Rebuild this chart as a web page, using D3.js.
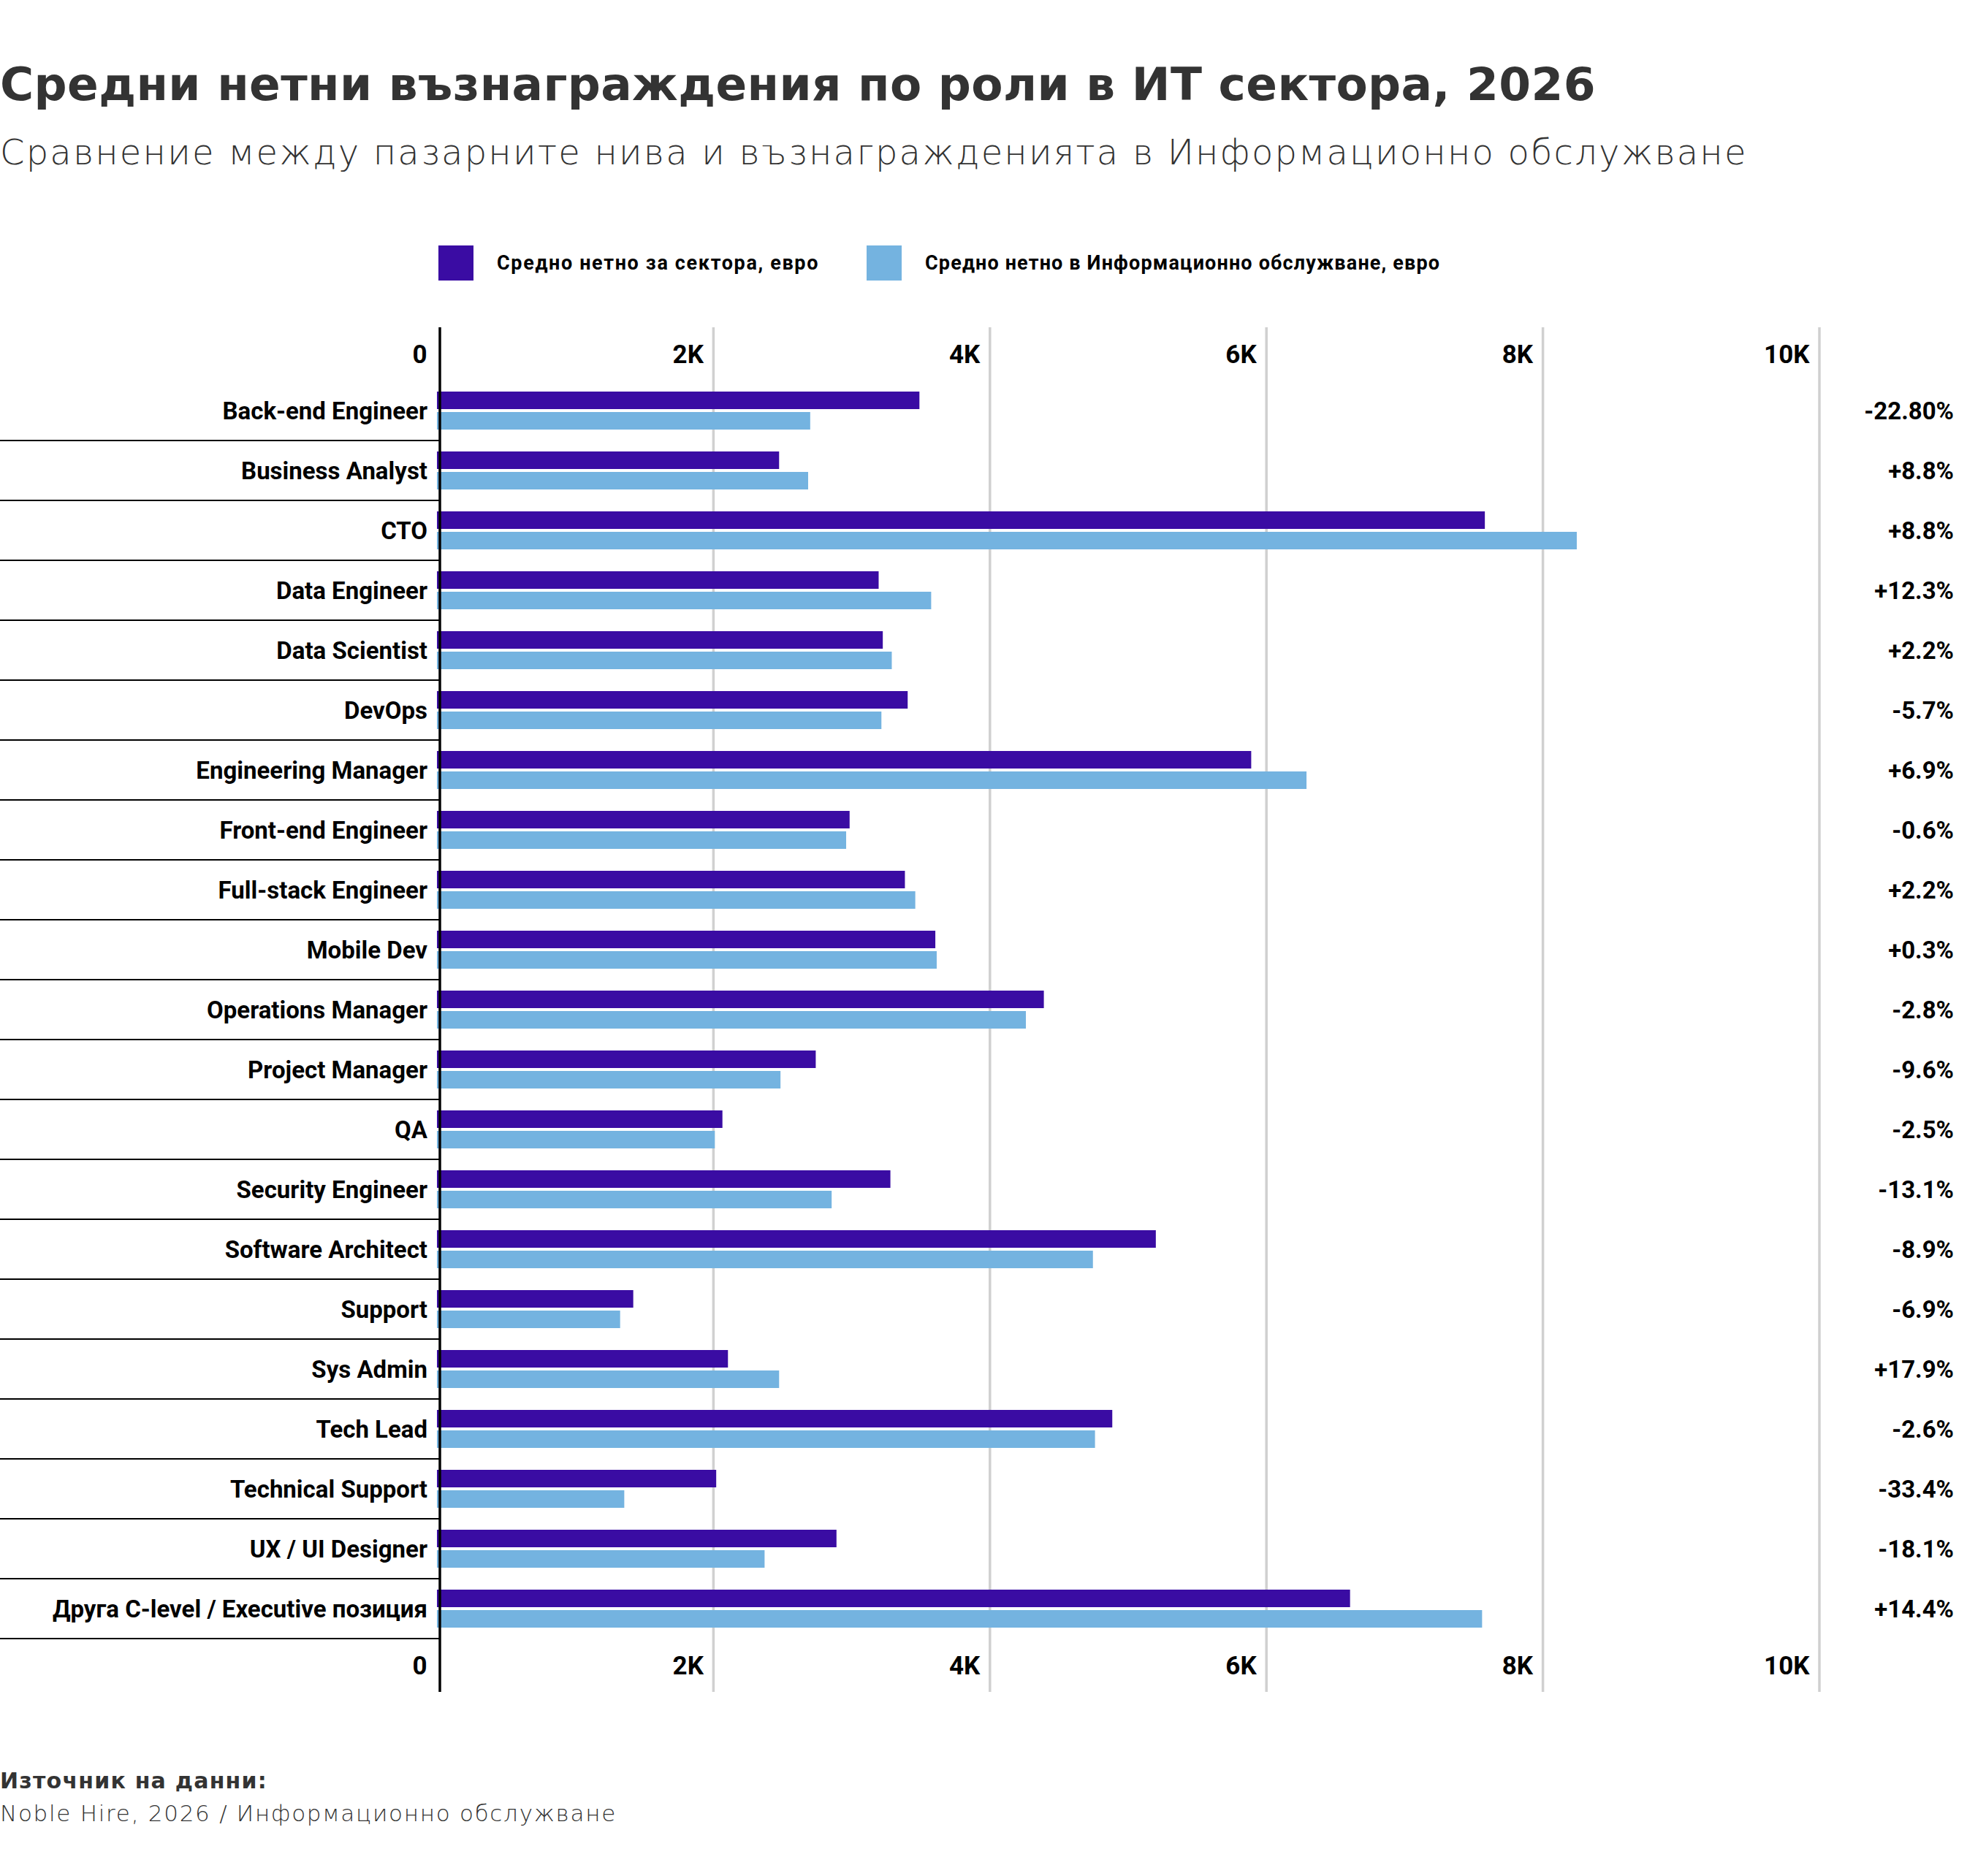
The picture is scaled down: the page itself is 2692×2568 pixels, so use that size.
<!DOCTYPE html>
<html lang="bg">
<head>
<meta charset="utf-8">
<title>Средни нетни възнаграждения по роли в ИТ сектора, 2026</title>
<script src="https://cdn.jsdelivr.net/npm/d3@7/dist/d3.min.js"></script>
<style>
    body { margin: 0; background: #fff; }
    svg { display: block; }
</style>
</head>
<body>
<div id="chart"></div>
<script>
// Data
const roles = [
    'Back-end Engineer', 'Business Analyst', 'CTO', 'Data Engineer', 'Data Scientist',
    'DevOps', 'Engineering Manager', 'Front-end Engineer', 'Full-stack Engineer', 'Mobile Dev',
    'Operations Manager', 'Project Manager', 'QA', 'Security Engineer', 'Software Architect',
    'Support', 'Sys Admin', 'Tech Lead', 'Technical Support', 'UX / UI Designer',
    'Друга C-level / Executive позиция'
];
const sectorAvg = [3490, 2475, 7580, 3195, 3225, 3405, 5890, 2985, 3385, 3605, 4390,
    2740, 2065, 3280, 5200, 1420, 2105, 4885, 2020, 2890, 6605];
const infoAvg = [2700, 2685, 8245, 3575, 3290, 3215, 6290, 2960, 3460, 3615, 4260,
    2485, 2010, 2855, 4745, 1325, 2475, 4760, 1355, 2370, 7560];
const diffLabels = ['-22.80%', '+8.8%', '+8.8%', '+12.3%', '+2.2%', '-5.7%', '+6.9%',
    '-0.6%', '+2.2%', '+0.3%', '-2.8%', '-9.6%', '-2.5%', '-13.1%', '-8.9%', '-6.9%',
    '+17.9%', '-2.6%', '-33.4%', '-18.1%', '+14.4%'];
const xTicks = [0, 2000, 4000, 6000, 8000, 10000];
const seriesNames = ['Средно нетно за сектора, евро', 'Средно нетно в Информационно обслужване, евро'];
const seriesColors = ['#3a0ca3', '#74b3e0'];

const rows = roles.map((r, i) => ({ role: r, sector: sectorAvg[i], info: infoAvg[i], diff: diffLabels[i] }));

const W = 2692, H = 2568;
const titleFont = "'DejaVu Sans', 'Noto Sans', sans-serif";
const labelFont = "Roboto, 'Liberation Sans', sans-serif";

// stretch a left-aligned text to the width it has in the design
function fitWidth(sel, target) {
    const len = sel.node().getComputedTextLength();
    const n = sel.text().length;
    sel.attr('letter-spacing', ((target - len) / n).toFixed(2));
}

const svg = d3.select('#chart').append('svg')
    .attr('width', W)
    .attr('height', H);

svg.append('rect').attr('width', W).attr('height', H).attr('fill', '#fff');

// Titles
svg.append('text')
    .attr('x', 0)
    .attr('y', 137)
    .attr('fill', '#333')
    .attr('font-family', titleFont)
    .attr('font-size', '63px')
    .attr('font-weight', 700)
    .text('Средни нетни възнаграждения по роли в ИТ сектора, 2026')
    .call(fitWidth, 2184);

svg.append('text')
    .attr('x', 0)
    .attr('y', 225)
    .attr('fill', '#333')
    .attr('font-family', titleFont)
    .attr('font-size', '48px')
    .attr('font-weight', 300)
    .text('Сравнение между пазарните нива и възнагражденията в Информационно обслужване')
    .call(fitWidth, 2392);

// Legend
const legendX = [600, 1186];
const legendW = [441, 705];
const legend = svg.append('g').attr('class', 'legend');
seriesNames.forEach((name, i) => {
    legend.append('rect')
        .attr('x', legendX[i])
        .attr('y', 336)
        .attr('width', 48)
        .attr('height', 48)
        .attr('fill', seriesColors[i]);
    legend.append('text')
        .attr('x', legendX[i] + 80)
        .attr('y', 360)
        .attr('dy', '0.35em')
        .attr('fill', '#000')
        .attr('font-family', labelFont)
        .attr('font-size', '27px')
        .attr('font-weight', 700)
        .text(name)
        .call(fitWidth, legendW[i]);
});

// Scales
const x = d3.scaleLinear()
    .domain([0, 10000])
    .range([598, 2490]);

const y = d3.scaleBand()
    .domain(roles)
    .range([521, 2243]);

const ySub = d3.scaleBand()
    .domain(['sector', 'info'])
    .range([0, y.bandwidth()])
    .paddingInner(1 / 7)
    .paddingOuter(0.5357);

const gridTop = 448, gridBottom = 2316;

// Grid
svg.append('g')
    .attr('class', 'grid')
    .selectAll('line')
    .data(xTicks.filter(d => d > 0))
    .enter()
    .append('line')
    .attr('x1', d => x(d))
    .attr('x2', d => x(d))
    .attr('y1', gridTop)
    .attr('y2', gridBottom)
    .attr('stroke', '#d0d0d0')
    .attr('stroke-width', 3.5);

// Bars
const groups = svg.selectAll('.row')
    .data(rows)
    .enter()
    .append('g')
    .attr('class', 'row')
    .attr('transform', d => `translate(0,${y(d.role)})`);

groups.append('rect')
    .attr('x', x(0))
    .attr('y', ySub('sector'))
    .attr('width', d => x(d.sector) - x(0))
    .attr('height', ySub.bandwidth())
    .attr('fill', seriesColors[0]);

groups.append('rect')
    .attr('x', x(0))
    .attr('y', ySub('info'))
    .attr('width', d => x(d.info) - x(0))
    .attr('height', ySub.bandwidth())
    .attr('fill', seriesColors[1]);

// Row separators
groups.append('line')
    .attr('x1', 0)
    .attr('x2', 602)
    .attr('y1', y.bandwidth())
    .attr('y2', y.bandwidth())
    .attr('stroke', '#000')
    .attr('stroke-width', 2);

// Category labels
groups.append('text')
    .attr('x', 585)
    .attr('y', y.bandwidth() / 2)
    .attr('dy', '0.35em')
    .attr('text-anchor', 'end')
    .attr('fill', '#000')
    .attr('font-family', labelFont)
    .attr('font-size', '33px')
    .attr('font-weight', 700)
    .text(d => d.role);

// Difference labels
groups.append('text')
    .attr('x', 2674)
    .attr('y', y.bandwidth() / 2)
    .attr('dy', '0.35em')
    .attr('text-anchor', 'end')
    .attr('fill', '#000')
    .attr('font-family', labelFont)
    .attr('font-size', '33px')
    .attr('font-weight', 700)
    .text(d => d.diff);

// Axes (top and bottom)
const fmt = d => d === 0 ? '0' : (d / 1000) + 'K';
[[485, d3.axisTop], [2280, d3.axisBottom]].forEach(([ty, axisFn]) => {
    const g = svg.append('g')
        .attr('class', 'axis')
        .attr('transform', `translate(0,${ty})`)
        .call(axisFn(x).tickValues(xTicks).tickFormat(fmt).tickSize(0).tickPadding(0));
    g.select('.domain').remove();
    g.selectAll('text')
        .attr('text-anchor', 'end')
        .attr('x', -14)
        .attr('y', 0)
        .attr('dy', '0.35em')
        .attr('fill', '#000')
        .attr('font-family', labelFont)
        .attr('font-size', '35px')
        .attr('font-weight', 700);
});

// Zero axis line
svg.append('line')
    .attr('x1', 602)
    .attr('x2', 602)
    .attr('y1', gridTop)
    .attr('y2', gridBottom)
    .attr('stroke', '#000')
    .attr('stroke-width', 3.5);

// Source
svg.append('text')
    .attr('x', 0)
    .attr('y', 2448)
    .attr('fill', '#333')
    .attr('font-family', titleFont)
    .attr('font-size', '30px')
    .attr('font-weight', 700)
    .text('Източник на данни:')
    .call(fitWidth, 366);

svg.append('text')
    .attr('x', 0)
    .attr('y', 2493)
    .attr('fill', '#333')
    .attr('font-family', titleFont)
    .attr('font-size', '31px')
    .attr('font-weight', 300)
    .text('Noble Hire, 2026 / Информационно обслужване')
    .call(fitWidth, 844);
</script>
</body>
</html>
